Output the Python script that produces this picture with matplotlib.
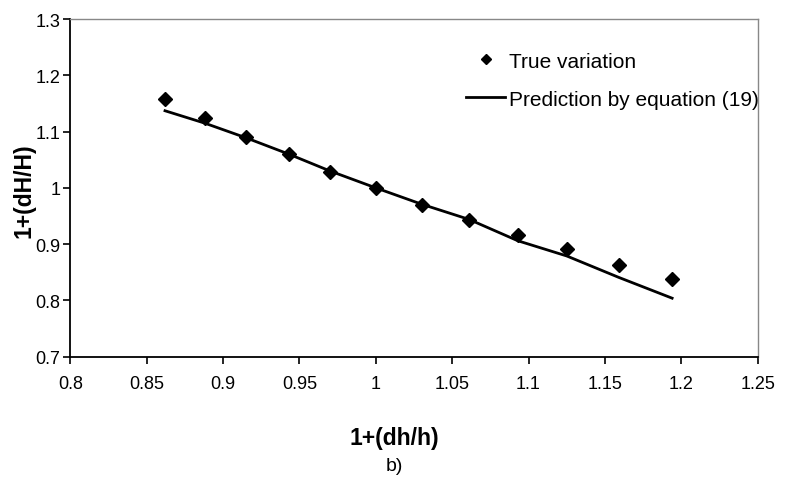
import numpy as np
import matplotlib
matplotlib.use("Agg")
import matplotlib.pyplot as plt
import matplotlib.ticker as mtick

plt.rcParams['font.family'] = ['Liberation Sans', 'DejaVu Sans']

# measured points
dh = [0.862, 0.888, 0.915, 0.943, 0.970, 1.000, 1.030, 1.061, 1.093, 1.125, 1.159, 1.194]
dH_true = [1.158, 1.124, 1.091, 1.060, 1.029, 1.000, 0.970, 0.943, 0.916, 0.891, 0.863, 0.838]

# equation (19) prediction
dH_pred = [1.137, 1.115, 1.089, 1.060, 1.030, 1.000, 0.971, 0.944, 0.906, 0.879, 0.841, 0.804]

fig = plt.figure(figsize=(7.89, 4.81), dpi=100)
ax = fig.add_axes([0.0891, 0.2563, 0.8712, 0.7021])

ax.plot(dh, dH_true, 'D', color='black', ms=6.8, ls='none', label='True variation')
ax.plot(dh, dH_pred, '-', color='black', lw=2, label='Prediction by equation (19)')

ax.set_xlim(0.8, 1.25)
ax.set_ylim(0.7, 1.3)
ax.set_xticks(np.arange(0.8, 1.2501, 0.05))
ax.set_yticks(np.arange(0.7, 1.3001, 0.1))
ax.xaxis.set_major_formatter(mtick.FormatStrFormatter('%g'))
ax.yaxis.set_major_formatter(mtick.FormatStrFormatter('%g'))
ax.tick_params(axis='both', direction='out', length=5, width=1.2, labelsize=13, color='black')
ax.tick_params(axis='x', pad=8)
ax.tick_params(axis='y', pad=2)

for s in ['left', 'bottom']:
    ax.spines[s].set_color('black')
    ax.spines[s].set_linewidth(1.3)
for s in ['top', 'right']:
    ax.spines[s].set_color('#888888')
    ax.spines[s].set_linewidth(1)

fig.text(0.030, 0.603, '1+(dH/H)', rotation=90, ha='center', va='center',
         fontsize=16.5, fontweight='bold')
fig.text(0.5, 0.089, '1+(dh/h)', ha='center', va='center', fontsize=16.5, fontweight='bold')
fig.text(0.5, 0.031, 'b)', ha='center', va='center', fontsize=14)

leg = ax.legend(loc='upper left', bbox_to_anchor=(0.5757, 0.903), frameon=False,
                fontsize=15, handlelength=1.87, handletextpad=0.2, labelspacing=0.9,
                markerscale=0.72, borderpad=0, borderaxespad=0)

plt.savefig('out.png', dpi=100)
